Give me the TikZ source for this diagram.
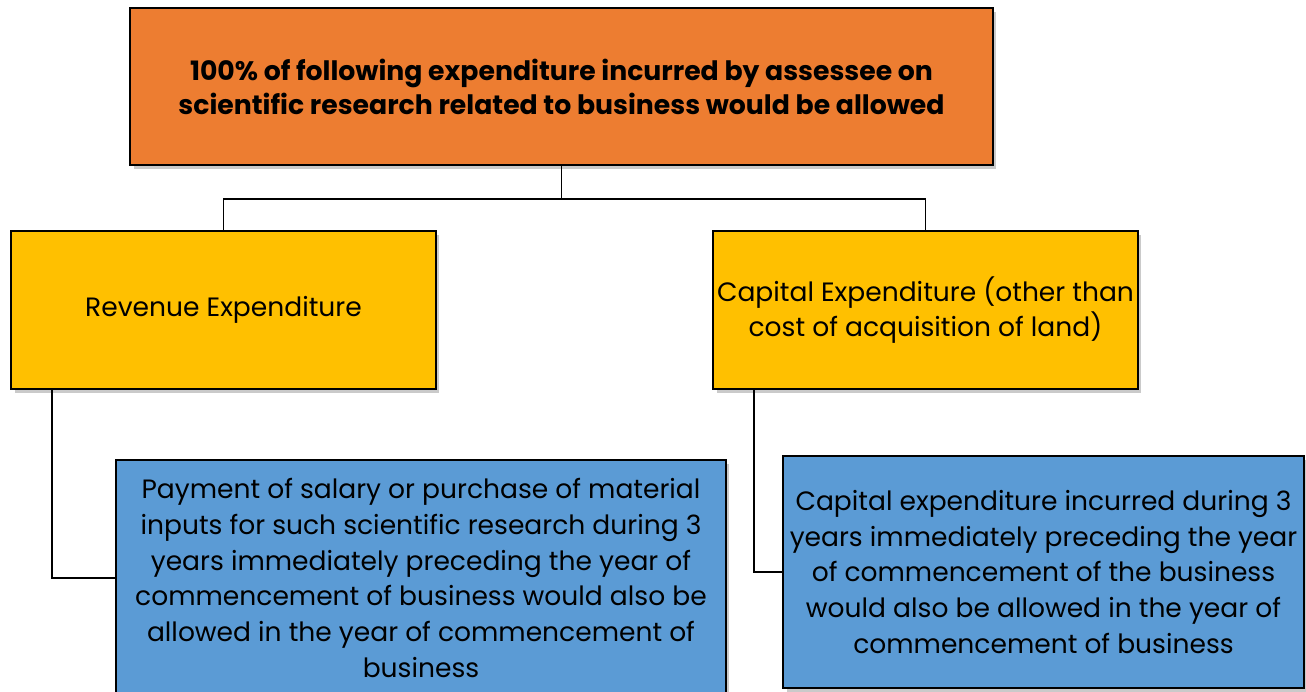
\documentclass[tikz,border=0pt]{standalone}
\usepackage{fontspec}
\setmainfont{Poppins}
\usetikzlibrary{positioning, shadows}

\begin{document}
\begin{tikzpicture}[
  x=0.02cm, y=-0.02cm,
  box/.style={
    draw=black, line width=1.1pt,
    drop shadow={shadow xshift=2pt, shadow yshift=-2.5pt, opacity=0.35, fill=black!60},
    align=center, inner sep=2pt,
    font=\fontsize{15.1}{20.4}\selectfont
  },
  headbox/.style={box, fill={rgb,255:red,237;green,125;blue,49},
    minimum width=17.26cm, minimum height=3.14cm,
    font=\fontsize{15.2}{19.4}\selectfont\bfseries},
  kindbox/.style={box, fill={rgb,255:red,255;green,192;blue,0},
    minimum width=8.5cm, minimum height=3.16cm},
  notebox/.style={box, fill={rgb,255:red,91;green,155;blue,213}},
  link/.style={draw=black, line width=1.1pt}
]
  \useasboundingbox (0,0) rectangle (1306,691);

  \node[headbox] (head) at (561.5,86.5)
    {100\% of following expenditure incurred by assessee on\\
     scientific research related to business would be allowed};

  \node[kindbox] (rev) at (223.5,310) {Revenue Expenditure};
  \node[kindbox] (cap) at (925.5,310)
    {Capital Expenditure (other than\\cost of acquisition of land)};

  \node[notebox, minimum width=12.2cm, minimum height=4.72cm] (revnote) at (421,578)
    {Payment of salary or purchase of material\\
     inputs for such scientific research during 3\\
     years immediately preceding the year of\\
     commencement of business would also be\\
     allowed in the year of commencement of\\
     business};
  \node[notebox, minimum width=10.42cm, minimum height=4.64cm] (capnote) at (1043.5,572)
    {Capital expenditure incurred during 3\\
     years immediately preceding the year\\
     of commencement of the business\\
     would also be allowed in the year of\\
     commencement of business};

  % tree connectors
  \draw[link] (head.south) -- ++(0,33) coordinate (split) -| (rev.north);
  \draw[link] (split) -| (cap.north);
  \draw[link] ([xshift=0.84cm]rev.south west) |- (revnote.west);
  \draw[link] ([xshift=0.84cm]cap.south west) |- (capnote.west);
\end{tikzpicture}
\end{document}
